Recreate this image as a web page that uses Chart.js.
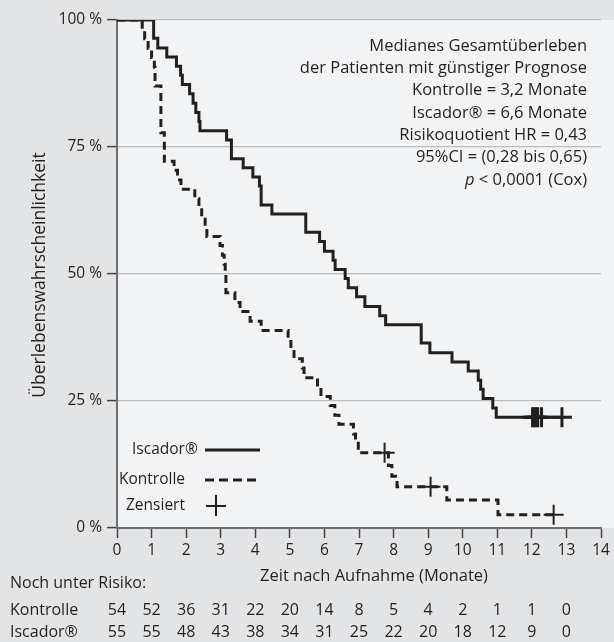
<!DOCTYPE html>
<html>
<head>
<meta charset="utf-8">
<script src="https://cdn.jsdelivr.net/npm/chart.js@4"></script>
<style>
  html, body { margin: 0; padding: 0; background: #e3e4e6; }
  #wrap { width: 614px; height: 642px; }
</style>
</head>
<body>
<div id="wrap"><canvas id="km" width="614" height="642"></canvas></div>
<script>
// Kaplan-Meier Stufen (Zeit in Monaten, Überleben in %)
const kontrolleTime = [0, 0.73, 0.8, 0.9, 1.0, 1.08, 1.1, 1.27, 1.37, 1.65, 1.75, 1.85, 2.25, 2.37, 2.45, 2.55, 2.6,
  2.98, 3.05, 3.1, 3.13, 3.15, 3.41, 3.56, 3.85, 4.17, 4.95, 5.03, 5.12, 5.36, 5.41, 5.8, 5.9, 6.17, 6.3, 6.42,
  6.84, 6.9, 6.98, 7.85, 7.95, 8.1, 9.54, 11.02, 12.63];
const kontrolleSurv = [100, 98.1, 96.3, 94.4, 92.6, 90.7, 87.0, 77.8, 72.2, 70.4, 68.5, 66.7, 64.8, 63.0, 61.1, 59.3, 57.4,
  55.6, 53.7, 51.9, 50.0, 46.3, 44.4, 42.6, 40.7, 38.9, 37.0, 35.2, 33.3, 31.5, 29.6, 27.8, 25.9, 24.1, 22.2, 20.4,
  18.5, 16.7, 14.8, 12.3, 10.2, 8.1, 5.5, 2.6, 2.6];

const iscadorTime = [0, 1.06, 1.18, 1.44, 1.72, 1.84, 1.89, 2.1, 2.2, 2.28, 2.37, 2.4, 3.17, 3.31, 3.65, 3.93, 4.12,
  4.17, 4.48, 5.46, 5.86, 6.0, 6.25, 6.31, 6.6, 6.69, 6.93, 7.17, 7.6, 7.77, 8.8, 9.05, 9.69, 10.16, 10.45, 10.52,
  10.59, 10.87, 10.97, 12.87];
const iscadorSurv = [100, 96.4, 94.5, 92.7, 90.9, 89.1, 87.3, 85.5, 83.6, 81.8, 80.0, 78.2, 76.4, 72.7, 70.9, 69.1, 67.3,
  63.6, 61.8, 58.2, 56.4, 54.5, 52.7, 50.9, 49.1, 47.3, 45.5, 43.6, 41.8, 40.0, 36.4, 34.5, 32.7, 30.9, 29.1, 27.3,
  25.5, 23.6, 21.8, 21.8];

// zensierte Patienten
const zensKontrolleTime = [7.74, 9.07, 12.63];
const zensKontrolleSurv = [14.8, 8.1, 2.6];
const zensIscadorTime = [12.02, 12.07, 12.12, 12.17, 12.28, 12.87];
const zensIscadorSurv = [21.8, 21.8, 21.8, 21.8, 21.8, 21.8];

// Noch unter Risiko (Monat 0 bis 13)
const riskMonths = [0, 1, 2, 3, 4, 5, 6, 7, 8, 9, 10, 11, 12, 13];
const riskKontrolle = [54, 52, 36, 31, 22, 20, 14, 8, 5, 4, 2, 1, 1, 0];
const riskIscador = [55, 55, 48, 43, 38, 34, 31, 25, 22, 20, 18, 12, 9, 0];

const infoLines = [
  'Medianes Gesamtüberleben',
  'der Patienten mit günstiger Prognose',
  'Kontrolle = 3,2 Monate',
  'Iscador® = 6,6 Monate',
  'Risikoquotient HR = 0,43',
  '95%CI = (0,28 bis 0,65)',
];

const FONT = '"Open Sans", "Noto Sans", sans-serif';
const INK = '#231f20';

const toXY = (xs, ys) => xs.map((x, i) => ({ x: x, y: ys[i] }));

// Hintergrund, Texte, Legende und Risikotabelle
const decor = {
  id: 'decor',
  beforeDraw(chart) {
    const { ctx, chartArea: a } = chart;
    ctx.save();
    ctx.fillStyle = '#e3e4e6';
    ctx.fillRect(0, 0, chart.width, chart.height);
    ctx.fillStyle = '#f2f3f5';
    ctx.fillRect(a.left, a.top, chart.width - a.left, a.bottom - a.top);
    ctx.restore();
  },
  afterDraw(chart) {
    const { ctx } = chart;
    const xs = chart.scales.x;
    ctx.save();
    ctx.fillStyle = INK;
    ctx.strokeStyle = INK;
    ctx.textBaseline = 'middle';

    // Infotext oben rechts
    ctx.font = '16.5px ' + FONT;
    ctx.textAlign = 'right';
    infoLines.forEach((t, i) => ctx.fillText(t, 587, 46 + i * 22.3));
    const rest = ' < 0,0001 (Cox)';
    const yP = 46 + 6 * 22.3;
    ctx.fillText(rest, 587, yP);
    const w = ctx.measureText(rest).width;
    ctx.font = 'italic 16.5px ' + FONT;
    ctx.fillText('p', 587 - w, yP);

    // Achsentitel
    ctx.font = '16.5px ' + FONT;
    ctx.textAlign = 'center';
    ctx.fillText('Zeit nach Aufnahme (Monate)', 374, 576);
    ctx.save();
    ctx.translate(40, 275);
    ctx.rotate(-Math.PI / 2);
    ctx.font = '17.5px ' + FONT;
    ctx.fillText('Überlebenswahrscheinlichkeit', 0, 0);
    ctx.restore();

    // Legende im Diagramm
    ctx.font = '15.5px ' + FONT;
    ctx.textAlign = 'left';
    ctx.fillText('Iscador®', 132, 450);
    ctx.fillText('Kontrolle', 119, 480);
    ctx.fillText('Zensiert', 126, 506);
    ctx.lineWidth = 3;
    ctx.beginPath();
    ctx.moveTo(205, 450); ctx.lineTo(260, 450);
    ctx.stroke();
    ctx.setLineDash([9, 5]);
    ctx.beginPath();
    ctx.moveTo(205, 480); ctx.lineTo(260, 480);
    ctx.stroke();
    ctx.setLineDash([]);
    ctx.lineWidth = 2;
    ctx.beginPath();
    ctx.moveTo(206, 506); ctx.lineTo(226, 506);
    ctx.moveTo(216, 495); ctx.lineTo(216, 516);
    ctx.stroke();

    // Noch unter Risiko
    ctx.font = '16px ' + FONT;
    ctx.fillText('Noch unter Risiko:', 10, 583);
    ctx.fillText('Kontrolle', 10, 610);
    ctx.fillText('Iscador®', 10, 632);
    ctx.textAlign = 'center';
    riskMonths.forEach((m, i) => {
      const px = xs.getPixelForValue(m);
      ctx.fillText(String(riskKontrolle[i]), px, 610);
      ctx.fillText(String(riskIscador[i]), px, 632);
    });
    ctx.restore();
  }
};

document.addEventListener('DOMContentLoaded', () => {
  const ctx = document.getElementById('km');

  new Chart(ctx, {
    type: 'line',
    data: {
      datasets: [{
        label: 'Iscador®',
        data: toXY(iscadorTime, iscadorSurv),
        borderColor: INK,
        borderWidth: 3,
        stepped: true,
        pointRadius: 0,
        fill: false,
      }, {
        label: 'Kontrolle',
        data: toXY(kontrolleTime, kontrolleSurv),
        borderColor: INK,
        borderWidth: 3,
        borderDash: [8, 5],
        stepped: true,
        pointRadius: 0,
        fill: false,
      }, {
        label: 'Zensiert Iscador',
        data: toXY(zensIscadorTime, zensIscadorSurv),
        showLine: false,
        pointStyle: 'cross',
        pointRadius: 10,
        pointBorderWidth: 3,
        pointBorderColor: INK,
      }, {
        label: 'Zensiert Kontrolle',
        data: toXY(zensKontrolleTime, zensKontrolleSurv),
        showLine: false,
        pointStyle: 'cross',
        pointRadius: 10,
        pointBorderWidth: 2,
        pointBorderColor: INK,
      }],
    },
    options: {
      responsive: false,
      animation: false,
      layout: { padding: { top: 20, right: 6, left: 0, bottom: 0 } },
      plugins: {
        legend: { display: false },
        tooltip: { enabled: false },
      },
      scales: {
        x: {
          type: 'linear',
          min: 0,
          max: 14,
          ticks: { stepSize: 1, color: INK, padding: 3, font: { family: FONT, size: 15.5 }, maxRotation: 0 },
          grid: { drawOnChartArea: false, tickLength: 10, tickColor: '#444', tickWidth: 1.5 },
          border: { color: '#6d6e70', width: 2 },
          afterFit(scale) {
            scale.height = 114;
            scale.paddingLeft = 0;
            scale.paddingRight = 0;
          },
        },
        y: {
          min: 0,
          max: 100,
          ticks: {
            stepSize: 25,
            color: INK,
            padding: 5,
            font: { family: FONT, size: 15.5 },
            callback: (v) => v + ' %',
          },
          grid: { color: '#bcbdbf', lineWidth: 1.2, tickLength: 10, tickColor: '#444', tickWidth: 1.5 },
          border: { color: '#6d6e70', width: 2 },
          afterFit(scale) {
            scale.width = 117;
            scale.paddingTop = 0;
            scale.paddingBottom = 0;
          },
        },
      },
    },
    plugins: [decor],
  });
});
</script>
</body>
</html>
